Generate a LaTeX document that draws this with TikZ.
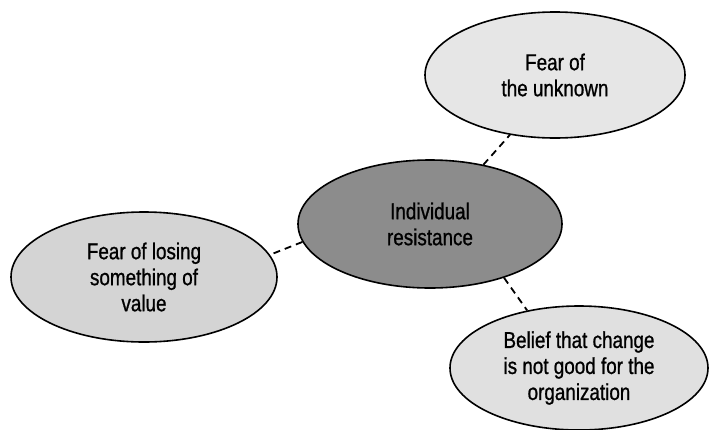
\documentclass[tikz,border=0pt]{standalone}
\usepackage{fontspec}
\setmainfont{Liberation Sans}[FakeStretch=0.82, FakeBold=0.9]
\usetikzlibrary{shapes.geometric}

\definecolor{coreFill}{HTML}{8C8C8C}
\definecolor{leftFill}{HTML}{D4D4D4}
\definecolor{topFill}{HTML}{E6E6E6}
\definecolor{botFill}{HTML}{E0E0E0}

\tikzset{
  bubble/.style={ellipse, draw=black, line width=1.6pt, inner sep=0pt,
    align=center, font=\fontsize{23}{26}\selectfont},
  link/.style={draw=black, line width=1.8pt, dash pattern=on 7pt off 5pt}
}

\begin{document}
\begin{tikzpicture}[x=1pt,y=-1pt]
  \useasboundingbox (0,0) rectangle (709,429);

  % central idea
  \node[bubble, fill=coreFill, minimum width=264pt, minimum height=128pt]
    (core) at (430,224) {Individual\\resistance};

  % sources of resistance
  \node[bubble, fill=topFill, minimum width=260pt, minimum height=126pt]
    (unknown) at (555,75) {Fear of\\the unknown};
  \node[bubble, fill=leftFill, minimum width=266pt, minimum height=130pt]
    (losing) at (144,277) {Fear of losing\\something of\\value};
  \node[bubble, fill=botFill, minimum width=258pt, minimum height=124pt]
    (belief) at (579,368) {Belief that change\\is not good for the\\organization};

  % dashed connectors
  \draw[link] (core.48) -- (unknown.233);
  \draw[link] (core.188) -- (losing.10);
  \draw[link] (core.-36) -- (belief.132);
\end{tikzpicture}
\end{document}
